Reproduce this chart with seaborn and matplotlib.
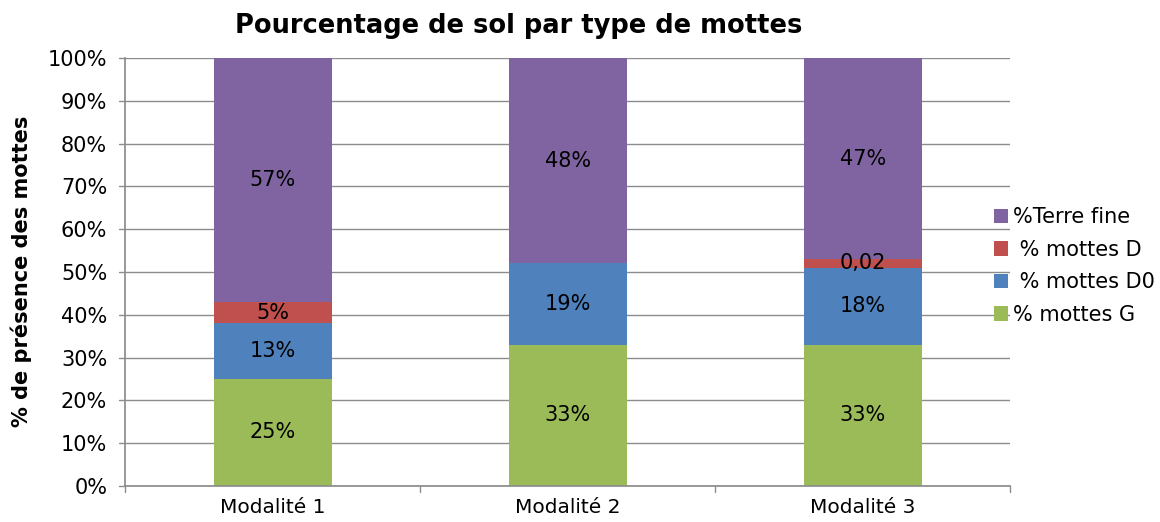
import numpy as np
import pandas as pd
import seaborn as sns
import matplotlib.pyplot as plt

sns.set_theme(style="white")
plt.rcParams["font.family"] = ["DejaVu Sans"]
plt.rcParams["text.color"] = "black"
plt.rcParams["xtick.color"] = "black"
plt.rcParams["ytick.color"] = "black"

modalites = ["Modalité 1", "Modalité 2", "Modalité 3"]
mottes_g = [25, 33, 33]
mottes_d0 = [13, 19, 18]
mottes_d = [5, 0, 2]
terre_fine = [57, 48, 47]
labels_g = ["25%", "33%", "33%"]
labels_d0 = ["13%", "19%", "18%"]
labels_d = ["5%", "", "0,02"]
labels_fine = ["57%", "48%", "47%"]
names = ["% mottes G", " % mottes D0", " % mottes D", "%Terre fine"]

colors = ["#9BBB59", "#4F81BD", "#C0504D", "#8064A2"]
series = [mottes_g, mottes_d0, mottes_d, terre_fine]
labels = [labels_g, labels_d0, labels_d, labels_fine]

fig, ax = plt.subplots(figsize=(11.6, 5.22), dpi=100)
fig.subplots_adjust(left=0.108, right=0.871, top=0.889, bottom=0.069)

bottom = np.zeros(len(modalites))
for vals, col, name, labs in zip(series, colors, names, labels):
    df = pd.DataFrame({"modalite": modalites, "val": vals})
    sns.barplot(df, x="modalite", y="val", bottom=bottom, color=col,
                width=0.4, label=name, ax=ax, saturation=1, linewidth=0)
    ax.bar_label(ax.containers[-1], labels=labs, label_type="center",
                 fontsize=15, color="black")
    bottom = bottom + np.array(vals)

ax.set_ylim(0, 100)
ax.set_xlim(-0.5, 2.5)
ax.set_yticks(range(0, 101, 10))
ax.set_yticklabels([f"{v}%" for v in range(0, 101, 10)], fontsize=15)
ax.set_xticks(range(3))
ax.set_xticklabels(modalites, fontsize=14.5)
ax.tick_params(axis="x", length=0, pad=9)
ax.tick_params(axis="y", length=0, pad=13)
ax.yaxis.grid(True, color="#8c8c8c", linewidth=1)
ax.set_axisbelow(True)
for s in ["top", "right"]:
    ax.spines[s].set_visible(False)
ax.spines["left"].set_color("#8c8c8c")
ax.spines["bottom"].set_color("#8c8c8c")
# outward tick marks like excel
for yv in range(0, 101, 10):
    ax.plot([-0.52, -0.5], [yv, yv], color="#8c8c8c", lw=1, clip_on=False)
for xv in [-0.5, 0.5, 1.5, 2.5]:
    ax.plot([xv, xv], [0, -1.4], color="#8c8c8c", lw=1, clip_on=False)

ax.set_xlabel("")
ax.set_ylabel("")
fig.text(0.018, 0.48, "% de présence des mottes", fontsize=15,
         fontweight="bold", rotation=90, ha="center", va="center")
fig.text(0.447, 0.95, "Pourcentage de sol par type de mottes", fontsize=18.5,
         fontweight="bold", ha="center", va="center")

handles, leg_labels = ax.get_legend_handles_labels()
ax.legend(handles[::-1], leg_labels[::-1], loc="center left",
          bbox_to_anchor=(0.972, 0.514), frameon=False, fontsize=15,
          handlelength=0.7, handleheight=0.7, handletextpad=0.2,
          labelspacing=0.6, borderaxespad=0)

fig.savefig("out.png", dpi=100)
